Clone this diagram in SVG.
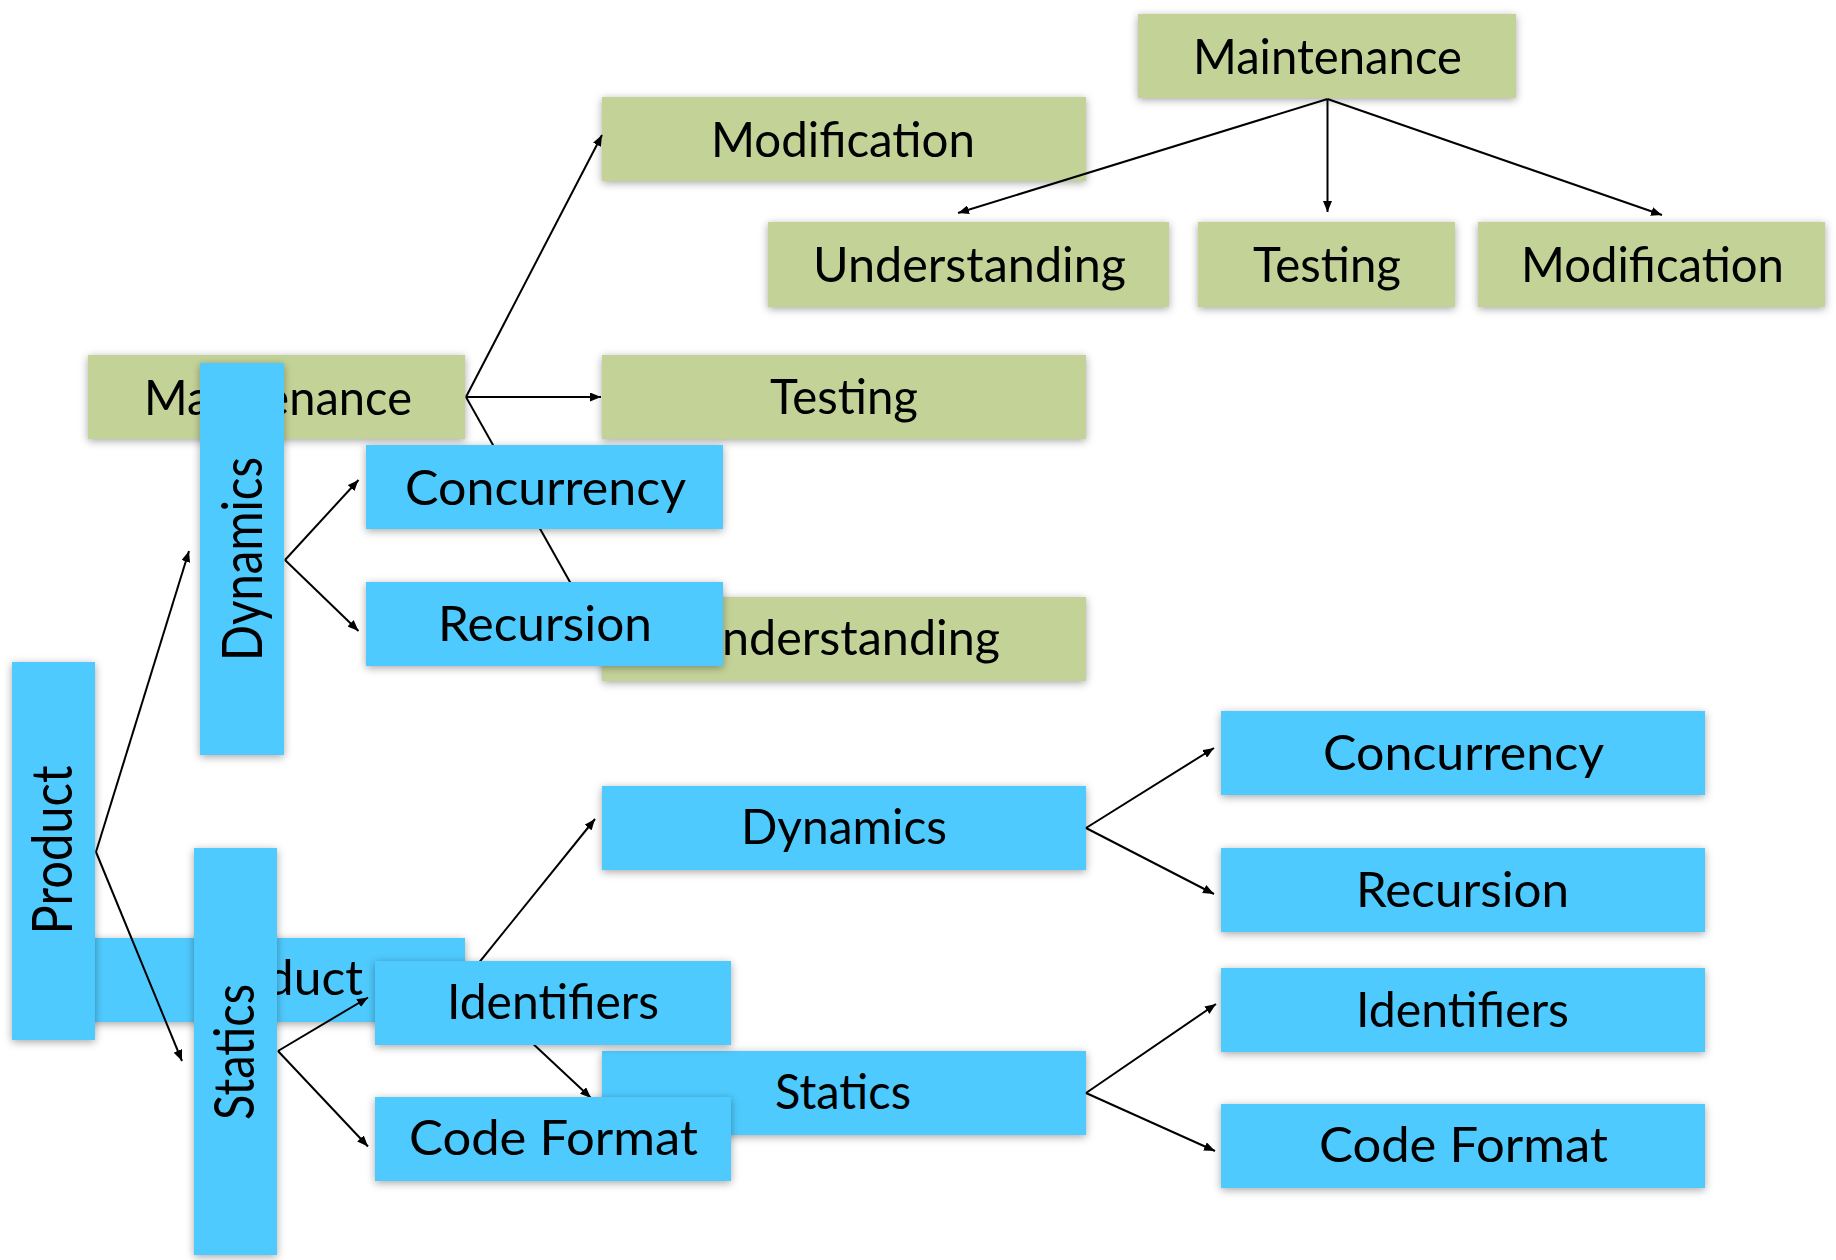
<svg xmlns="http://www.w3.org/2000/svg" width="1836" height="1260" viewBox="0 0 1836 1260">
<defs>
<filter id="sh" x="-10%" y="-20%" width="120%" height="140%">
<feDropShadow dx="0" dy="2" stdDeviation="4" flood-color="#000" flood-opacity="0.35"/>
</filter>
<marker id="ah" markerUnits="userSpaceOnUse" markerWidth="11" markerHeight="9" refX="11" refY="4.5" orient="auto">
<path d="M0,0 L11,4.5 L0,9 z" fill="#000"/>
</marker>
</defs>
<style>
.g{fill:#c3d398;filter:url(#sh)}
.b{fill:#4fcafe;filter:url(#sh)}
text{font-family:Lato,"Open Sans","Liberation Sans",sans-serif;fill:#000;text-anchor:middle}
.t{font-size:49px}
.v{font-size:56px}
.c line{stroke:#000;stroke-width:2;marker-end:url(#ah)}
</style>
<rect width="1836" height="1260" fill="#fff"/>

<g id="layer-maintenance">
<g id="n-maint-top"><rect class="g" x="1138" y="14" width="378" height="84"/><text class="t" x="1327.5" y="73.5" textLength="269" lengthAdjust="spacingAndGlyphs">Maintenance</text></g>
<g id="n-modification-1"><rect class="g" x="602" y="97" width="484" height="84"/><text class="t" x="843" y="157" textLength="264" lengthAdjust="spacingAndGlyphs">Modification</text></g>
<g id="n-understanding-2"><rect class="g" x="768" y="222" width="401" height="85"/><text class="t" x="969.5" y="282" textLength="313" lengthAdjust="spacingAndGlyphs">Understanding</text></g>
<g id="n-testing-2"><rect class="g" x="1198" y="222" width="257" height="85"/><text class="t" x="1327" y="282" textLength="148" lengthAdjust="spacingAndGlyphs">Testing</text></g>
<g id="n-modification-2"><rect class="g" x="1478" y="222" width="347" height="85"/><text class="t" x="1652.5" y="282" textLength="263" lengthAdjust="spacingAndGlyphs">Modification</text></g>
<g id="n-maint-left"><rect class="g" x="88" y="355" width="377" height="84"/><text class="t" x="278" y="415" textLength="268" lengthAdjust="spacingAndGlyphs">Maintenance</text></g>
<g id="n-testing-1"><rect class="g" x="602" y="355" width="484" height="84"/><text class="t" x="844" y="414" textLength="148" lengthAdjust="spacingAndGlyphs">Testing</text></g>
<g id="n-understanding-1"><rect class="g" x="602" y="597" width="484" height="84"/><text class="t" x="843.5" y="655" textLength="313" lengthAdjust="spacingAndGlyphs">Understanding</text></g>
<g id="connectors-maintenance" class="c">
<line x1="1327.5" y1="99" x2="958" y2="213"/>
<line x1="1327.5" y1="99" x2="1327.5" y2="212"/>
<line x1="1327.5" y1="99" x2="1662" y2="215"/>
<line x1="466" y1="397" x2="602" y2="135"/>
<line x1="466" y1="397" x2="601" y2="397"/>
<line x1="466" y1="397" x2="602" y2="639"/>
</g>
</g>

<g id="layer-product">
<g id="n-product-h"><rect class="b" x="88" y="938" width="377" height="84"/><text class="t" x="277" y="995" textLength="172" lengthAdjust="spacingAndGlyphs">Product</text></g>
<g id="n-dynamics-mid"><rect class="b" x="602" y="786" width="484" height="84"/><text class="t" x="844" y="844" textLength="206" lengthAdjust="spacingAndGlyphs">Dynamics</text></g>
<g id="n-statics-mid"><rect class="b" x="602" y="1051" width="484" height="84"/><text class="t" x="843" y="1109" textLength="136" lengthAdjust="spacingAndGlyphs">Statics</text></g>
<g id="n-concurrency-r"><rect class="b" x="1221" y="711" width="484" height="84"/><text class="t" x="1463.5" y="770" textLength="281" lengthAdjust="spacingAndGlyphs">Concurrency</text></g>
<g id="n-recursion-r"><rect class="b" x="1221" y="848" width="484" height="84"/><text class="t" x="1462.5" y="907" textLength="213" lengthAdjust="spacingAndGlyphs">Recursion</text></g>
<g id="n-identifiers-r"><rect class="b" x="1221" y="968" width="484" height="84"/><text class="t" x="1462.5" y="1027" textLength="213" lengthAdjust="spacingAndGlyphs">Identifiers</text></g>
<g id="n-codeformat-r"><rect class="b" x="1221" y="1104" width="484" height="84"/><text class="t" x="1463.5" y="1162" textLength="289" lengthAdjust="spacingAndGlyphs">Code Format</text></g>
<g id="connectors-product" class="c">
<line x1="465" y1="980" x2="595" y2="819"/>
<line x1="465" y1="980" x2="591" y2="1098"/>
<line x1="1086" y1="828" x2="1214" y2="748"/>
<line x1="1086" y1="828" x2="1214" y2="894"/>
<line x1="1086" y1="1093" x2="1216" y2="1004"/>
<line x1="1086" y1="1093" x2="1215" y2="1151"/>
</g>
</g>

<g id="layer-product-vertical">
<g id="n-product-v"><rect class="b" x="12" y="662" width="83" height="378"/><text class="v" transform="translate(72 850) rotate(-90)" textLength="169" lengthAdjust="spacingAndGlyphs">Product</text></g>
<g id="n-dynamics-v"><rect class="b" x="200" y="363" width="84" height="392"/><text class="v" transform="translate(262 559) rotate(-90)" textLength="204" lengthAdjust="spacingAndGlyphs">Dynamics</text></g>
<g id="n-statics-v"><rect class="b" x="194" y="848" width="83" height="407"/><text class="v" transform="translate(254 1052) rotate(-90)" textLength="136" lengthAdjust="spacingAndGlyphs">Statics</text></g>
<g id="n-concurrency-s"><rect class="b" x="366" y="445" width="357" height="84"/><text class="t" x="545.5" y="505" textLength="281" lengthAdjust="spacingAndGlyphs">Concurrency</text></g>
<g id="n-recursion-s"><rect class="b" x="366" y="582" width="357" height="84"/><text class="t" x="545" y="641" textLength="214" lengthAdjust="spacingAndGlyphs">Recursion</text></g>
<g id="n-identifiers-s"><rect class="b" x="375" y="961" width="356" height="84"/><text class="t" x="553" y="1019" textLength="212" lengthAdjust="spacingAndGlyphs">Identifiers</text></g>
<g id="n-codeformat-s"><rect class="b" x="375" y="1097" width="356" height="84"/><text class="t" x="553.5" y="1155" textLength="289" lengthAdjust="spacingAndGlyphs">Code Format</text></g>
<g id="connectors-product-vertical" class="c">
<line x1="96" y1="852" x2="189" y2="551"/>
<line x1="96" y1="852" x2="182" y2="1061"/>
<line x1="285" y1="560" x2="358.5" y2="480"/>
<line x1="285" y1="560" x2="358.5" y2="631"/>
<line x1="278" y1="1051" x2="368" y2="997.5"/>
<line x1="278" y1="1051" x2="368" y2="1146.5"/>
</g>
</g>
</svg>
